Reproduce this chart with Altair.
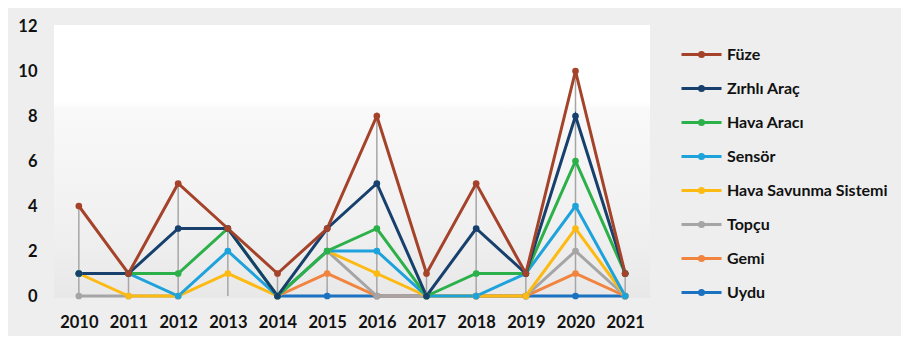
import altair as alt
import pandas as pd

years = ["2010", "2011", "2012", "2013", "2014", "2015", "2016", "2017", "2018", "2019", "2020", "2021"]
series = ["Füze", "Zırhlı Araç", "Hava Aracı", "Sensör", "Hava Savunma Sistemi", "Topçu", "Gemi", "Uydu"]
colors = ["#a5432a", "#17406d", "#2bb04a", "#1ea2dc", "#fcba12", "#a5a5a5", "#f1843e", "#1b72c0"]

fuze = [4, 1, 5, 3, 1, 3, 8, 1, 5, 1, 10, 1]
zirhli = [1, 1, 3, 3, 0, 3, 5, 0, 3, 1, 8, 1]
hava_araci = [1, 1, 1, 3, 0, 2, 3, 0, 1, 1, 6, 1]
sensor = [1, 1, 0, 2, 0, 2, 2, 0, 0, 1, 4, 0]
hava_savunma = [1, 0, 0, 1, 0, 2, 1, 0, 0, 0, 3, 0]
topcu = [0, 0, 0, None, 0, 2, 0, 0, 0, 0, 2, 0]
gemi = [None, None, None, None, 0, 1, 0, 0, 0, 0, 1, 0]
uydu = [None, None, None, None, 0, 0, 0, 0, 0, 0, 0, 0]

values = [fuze, zirhli, hava_araci, sensor, hava_savunma, topcu, gemi, uydu]

rows = []
# last series first so that the first series is drawn on top
for name, vals in reversed(list(zip(series, values))):
    for y, v in zip(years, vals):
        rows.append({"year": y, "series": name, "value": v})
df = pd.DataFrame(rows)

W, H = 596, 270
FONT = "Lato"

x_scale = alt.Scale(type="point", padding=0.5, domain=years)
x_enc = alt.X("year:O", sort=years, scale=x_scale,
              axis=alt.Axis(title=None, labelAngle=0, labelAlign="center", labelFont=FONT,
                            labelFontWeight="bold", labelFontSize=16.5, labelColor="#111111",
                            labelPadding=18, ticks=False, domain=True, domainColor="#d9d9d9",
                            domainWidth=1.5))
y_enc = alt.Y("value:Q", scale=alt.Scale(domain=[0, 12], nice=False),
              axis=alt.Axis(title=None, values=[0, 2, 4, 6, 8, 10, 12], labelFont=FONT,
                            labelFontWeight="bold", labelFontSize=16.5, labelColor="#111111",
                            labelPadding=17, ticks=False, domain=False, grid=False))

sym = "M-2,0L2,0M-0.2,0A0.2,0.2,0,1,1,0.2,0A0.2,0.2,0,1,1,-0.2,0Z"
legend = alt.Legend(title=None, orient="none", legendX=636, legendY=17, padding=0,
                    symbolType=sym, symbolSize=400, symbolStrokeWidth=3,
                    labelFont=FONT, labelFontWeight="bold", labelFontSize=16,
                    labelColor="#111111", labelOffset=14, rowPadding=14, labelLimit=300)
color_enc = alt.Color("series:N", scale=alt.Scale(domain=series, range=colors),
                      sort=series, legend=legend)

bg = alt.Chart(pd.DataFrame({"a": [0]})).mark_rect(
    fill=alt.Gradient(gradient="linear", x1=0, y1=0, x2=0, y2=1,
                      stops=[alt.GradientStop(offset=0, color="#ffffff"),
                             alt.GradientStop(offset=0.28, color="#ffffff"),
                             alt.GradientStop(offset=0.31, color="#f9f9f9"),
                             alt.GradientStop(offset=0.75, color="#f0f0f0"),
                             alt.GradientStop(offset=1, color="#e8e8e8")])
).encode(x=alt.value(0), x2=alt.value(W), y=alt.value(-1), y2=alt.value(H + 2))

drop = alt.Chart(df).transform_aggregate(
    maxv="max(value)", groupby=["year"]
).mark_rule(color="#a6a6a6", strokeWidth=1.5).encode(
    x=x_enc, y=alt.Y("maxv:Q", scale=alt.Scale(domain=[0, 12], nice=False)), y2=alt.datum(0)
)

lines = alt.Chart(df).mark_line(strokeWidth=3, invalid="break-paths-show-domains").encode(
    x=x_enc, y=y_enc, color=color_enc, detail="series:N"
)
points = alt.Chart(df).transform_filter(
    "isValid(datum.value)"
).mark_point(filled=True, size=45, opacity=1).encode(
    x=x_enc, y=y_enc, color=color_enc
)

chart = alt.layer(bg, drop, lines, points).properties(
    width=W, height=H,
    autosize=alt.AutoSizeParams(type="none"),
    padding={"left": 46, "top": 18, "right": 251, "bottom": 40},
    background="#eeeeee",
).configure_view(stroke=None, fill=None)

chart.save("out.html", embed_options={"renderer": "svg", "actions": False})
